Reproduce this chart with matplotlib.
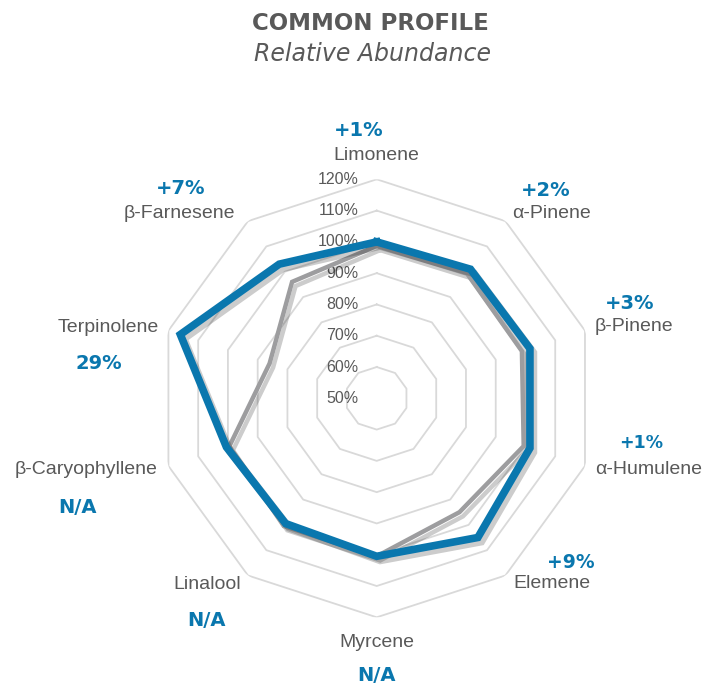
import numpy as np
import matplotlib
matplotlib.use('Agg')
import matplotlib.pyplot as plt
import matplotlib.patheffects as pe
from matplotlib import font_manager

#%% data
categories = ['Limonene', 'α-Pinene', 'β-Pinene', 'α-Humulene', 'Elemene',
              'Myrcene', 'Linalool', 'β-Caryophyllene', 'Terpinolene', 'β-Farnesene']
strain = [100, 101, 101.5, 101.5, 105, 100.5, 99.5, 100.5, 116, 103]
common = [98.7, 99.2, 98.8, 99.4, 95, 100.5, 100.5, 99.5, 86, 96]
notes = ['+1%', '+2%', '+3%', '+1%', '+9%', 'N/A', 'N/A', 'N/A', '29%', '+7%']
ring_vals = [60, 70, 80, 90, 100, 110, 120]
tick_vals = [50, 60, 70, 80, 90, 100, 110, 120]

#%% look
blue = '#0A77AE'
grey_line = '#9D9D9F'
txt = '#595959'
ring_col = '#D9D9D9'

names = {f.name for f in font_manager.fontManager.ttflist}
narrow = 'Liberation Sans Narrow' if 'Liberation Sans Narrow' in names else 'Liberation Sans'
geo = 'DejaVu Sans'

# label layout (pixel offsets from the outer vertex)
lab_off = [(0, 24), (7, 8), (10, 4), (10, -4), (8, -8),
           (0, -25), (-7, -9), (-11, -4), (-10, 3), (-13, 8)]
note_off = [(-18, 49), (40, 31), (45, 27), (56, 23), (65, 13),
            (0, -58), (-41, -45), (-91, -42), (-70, -33), (-67, 33)]
note_size = [14, 14, 14, 12.5, 13.5, 14, 14, 14, 14, 14]

W, H = 720, 686
fig = plt.figure(figsize=(W / 100, H / 100), dpi=100)
cx, cy, R = 376.7, 398.3, 219
ax = fig.add_axes([(cx - R) / W, (H - cy - R) / H, 2 * R / W, 2 * R / H], projection='polar')
ax.set_theta_zero_location('N')
ax.set_theta_direction(-1)
ax.set_ylim(50, 120)
ax.grid(False)
ax.set_xticks([])
ax.set_yticks([])
ax.spines['polar'].set_visible(False)
ax.patch.set_alpha(0)

n = len(categories)
theta = np.arange(n) * 2 * np.pi / n
th_closed = np.append(theta, theta[0])

for v in ring_vals:
    ax.plot(th_closed, [v] * (n + 1), color=ring_col, lw=1.3, zorder=1)

px = 72 / 100
for v in tick_vals:
    ax.annotate('%d%%' % v, xy=(0, v), xytext=(-18 * px, 0), textcoords='offset points',
                ha='right', va='center', fontsize=11.5, color=txt, family=narrow, zorder=2)

shadow = [pe.SimpleLineShadow(offset=(2.5, -3), shadow_color='k', alpha=0.2), pe.Normal()]
ax.plot(th_closed, common + common[:1], color=grey_line, lw=3.2, zorder=3,
        solid_joinstyle='miter', path_effects=shadow)
ax.plot(th_closed, strain + strain[:1], color=blue, lw=5.5, zorder=4,
        solid_joinstyle='miter', path_effects=shadow)

for i, name in enumerate(categories):
    dx, dy = lab_off[i]
    ha = 'center' if dx == 0 else ('left' if dx > 0 else 'right')
    ax.annotate(name, xy=(theta[i], 120), xytext=(dx * px, dy * px), textcoords='offset points',
                ha=ha, va='center', fontsize=14, color=txt, family=narrow, annotation_clip=False)
    nx, ny = note_off[i]
    ax.annotate(notes[i], xy=(theta[i], 120), xytext=(nx * px, ny * px), textcoords='offset points',
                ha='center', va='center', fontsize=note_size[i], color=blue, family=geo,
                fontweight='bold', annotation_clip=False)

fig.text(370 / W, 1 - 24 / H, 'COMMON PROFILE', ha='center', va='center',
         fontsize=16.5, fontweight='bold', color=txt, family=geo)
fig.text(372 / W, 1 - 54 / H, 'Relative Abundance', ha='center', va='center',
         fontsize=17, style='italic', color=txt, family=geo)

fig.savefig('out.png', dpi=100, facecolor='white')
